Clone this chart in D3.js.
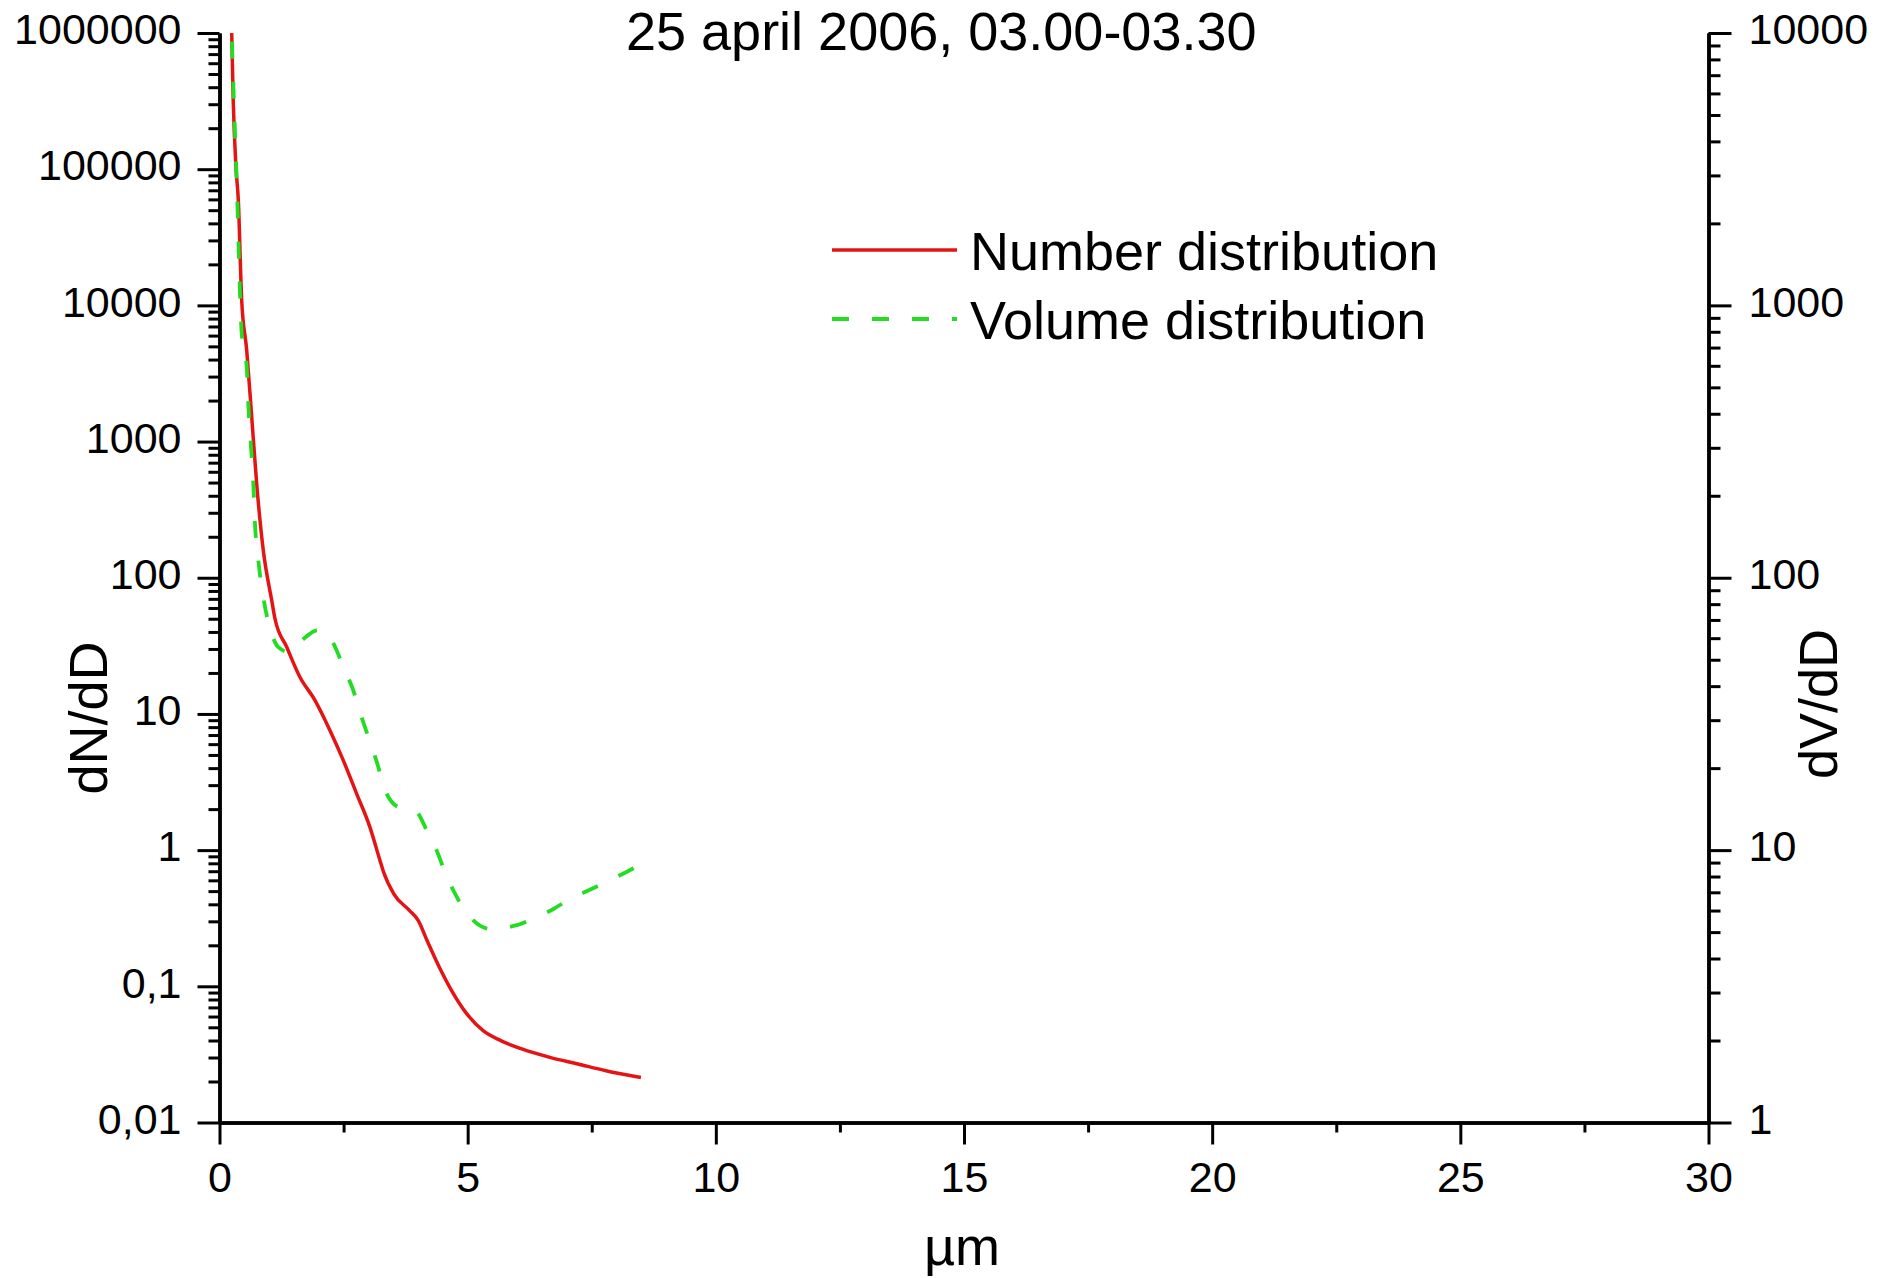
<!DOCTYPE html>
<html>
<head>
<meta charset="utf-8">
<script src="https://cdn.jsdelivr.net/npm/d3@7"></script>
<style>
  html, body { margin: 0; padding: 0; background: #fff; }
  svg { display: block; }
  text { font-family: "Liberation Sans", Arial, sans-serif; fill: #000; }
</style>
</head>
<body>
<svg id="chart" width="1892" height="1278"></svg>
<script>
// ---------- data ----------
const titleText = "25 april 2006, 03.00-03.30";
const seriesNames = ["Number distribution", "Volume distribution"];

// Number distribution (left axis, dN/dD)
const numberX = [0.246, 0.278, 0.332, 0.379, 0.447, 0.548, 0.649, 0.749, 0.882, 1.052, 1.118, 1.354, 1.622, 1.924, 2.226, 2.494, 2.764, 3.032, 3.233, 3.300, 3.511, 3.830, 4.005, 4.182, 4.464, 4.676, 4.960, 5.312, 5.667, 6.090, 6.656, 7.220, 7.786, 8.491];
const numberY = [1000000, 306000, 103000, 59300, 10900, 4690, 1517, 491, 159, 68.2, 50, 31, 18.6, 12.6, 7.57, 4.56, 2.59, 1.47, 0.84, 0.70, 0.478, 0.36, 0.304, 0.217, 0.130, 0.093, 0.0644, 0.0472, 0.0399, 0.0347, 0.0301, 0.0269, 0.0240, 0.0214];

// Volume distribution (right axis, dV/dD)
const volumeX = [0.250, 0.312, 0.359, 0.413, 0.447, 0.548, 0.580, 0.635, 0.681, 0.715, 0.782, 0.882, 1.052, 1.185, 1.380, 1.656, 1.958, 2.080, 2.361, 2.494, 2.695, 2.796, 2.965, 3.199, 3.300, 3.602, 3.938, 4.206, 4.375, 4.571, 4.712, 4.994, 5.453, 5.949, 6.231, 6.726, 7.008, 7.504, 7.786, 8.316, 8.527];
const volumeY = [9300, 4300, 2430, 1109, 791, 594, 437, 302, 222, 158, 116, 85, 62.3, 55.6, 53.5, 58.9, 64.1, 64.3, 54.1, 47.0, 38.6, 33.5, 27.1, 20.2, 17.3, 14.4, 14.0, 11.5, 9.97, 8.07, 7.11, 5.84, 5.14, 5.28, 5.51, 6.08, 6.53, 7.21, 7.62, 8.53, 8.91];

// tick values / labels
const xTickValues = [0, 5, 10, 15, 20, 25, 30];
const xMinorTicks = [2.5, 7.5, 12.5, 17.5, 22.5, 27.5];
const leftTickValues = [0.01, 0.1, 1, 10, 100, 1000, 10000, 100000, 1000000];
const leftTickLabels = ["0,01", "0,1", "1", "10", "100", "1000", "10000", "100000", "1000000"];
const rightTickValues = [1, 10, 100, 1000, 10000];
const rightTickLabels = ["1", "10", "100", "1000", "10000"];
const xAxisTitle = "µm";
const leftAxisTitle = "dN/dD";
const rightAxisTitle = "dV/dD";

// ---------- layout ----------
const L = 219.5, R = 1708.5, T = 33, B = 1122.5;
const svg = d3.select("#chart");
svg.append("rect").attr("width", 1892).attr("height", 1278).attr("fill", "#fff");

const x = d3.scaleLinear().domain([0, 30]).range([L, R]);
const yL = d3.scaleLog().domain([0.01, 1000000]).range([B, T]);
const yR = d3.scaleLog().domain([1, 10000]).range([B, T]);

function minorLog(lo, hi) {
  const out = [];
  for (let d = lo; d < hi * 0.999; d *= 10) {
    for (let k = 2; k <= 9; k++) out.push(+(d * k).toPrecision(6));
  }
  return out;
}

function styleAxis(g) {
  g.select(".domain").attr("stroke", "#000").attr("stroke-width", 3.5);
  g.selectAll(".tick line").attr("stroke", "#000").attr("stroke-width", 3);
  g.selectAll(".tick text").attr("font-size", 43).attr("font-family", '"Liberation Sans", Arial, sans-serif').attr("fill", "#000");
}

// minor ticks first
const gxm = svg.append("g").attr("transform", `translate(0,${B})`)
  .call(d3.axisBottom(x).tickValues(xMinorTicks).tickSize(10).tickSizeOuter(0).tickFormat(""));
styleAxis(gxm);
const gLm = svg.append("g").attr("transform", `translate(${L},0)`)
  .call(d3.axisLeft(yL).tickValues(minorLog(0.01, 1000000)).tickSize(11).tickSizeOuter(0).tickFormat(""));
styleAxis(gLm);
const gRm = svg.append("g").attr("transform", `translate(${R},0)`)
  .call(d3.axisRight(yR).tickValues(minorLog(1, 10000)).tickSize(12).tickSizeOuter(0).tickFormat(""));
styleAxis(gRm);

// major ticks
const gx = svg.append("g").attr("transform", `translate(0,${B})`)
  .call(d3.axisBottom(x).tickValues(xTickValues).tickSize(22).tickSizeOuter(0).tickPadding(17).tickFormat(d3.format("d")));
styleAxis(gx);

const gL = svg.append("g").attr("transform", `translate(${L},0)`)
  .call(d3.axisLeft(yL).tickValues(leftTickValues).tickSize(22).tickSizeOuter(0).tickPadding(16)
    .tickFormat((d, i) => leftTickLabels[i]));
styleAxis(gL);
gL.selectAll(".tick text").attr("dy", "0.25em");

const gR = svg.append("g").attr("transform", `translate(${R},0)`)
  .call(d3.axisRight(yR).tickValues(rightTickValues).tickSize(23).tickSizeOuter(0).tickPadding(17)
    .tickFormat((d, i) => rightTickLabels[i]));
styleAxis(gR);
gR.selectAll(".tick text").attr("dy", "0.25em");

// ---------- lines ----------
const numberData = numberX.map((v, i) => [v, numberY[i]]);
const volumeData = volumeX.map((v, i) => [v, volumeY[i]]);

const lineL = d3.line().x(d => x(d[0])).y(d => yL(d[1])).curve(d3.curveMonotoneX);
const lineR = d3.line().x(d => x(d[0])).y(d => yR(d[1])).curve(d3.curveMonotoneX);

const red = "#e41414", green = "#22dd22";

svg.append("path").datum(numberData).attr("d", lineL)
  .attr("fill", "none").attr("stroke", red).attr("stroke-width", 3.5).attr("stroke-linejoin", "round");
svg.append("path").datum(volumeData).attr("d", lineR)
  .attr("fill", "none").attr("stroke", green).attr("stroke-width", 3.8).attr("stroke-dasharray", "17,23");

// ---------- texts ----------
svg.append("text").attr("x", 626).attr("y", 50).attr("font-size", 54).text(titleText);

svg.append("text").attr("font-size", 54).attr("text-anchor", "middle")
  .attr("transform", "translate(107,718) rotate(-90)").text(leftAxisTitle);
svg.append("text").attr("font-size", 54).attr("text-anchor", "middle")
  .attr("transform", "translate(1837,704) rotate(-90)").text(rightAxisTitle);
svg.append("text").attr("font-size", 54).attr("text-anchor", "middle")
  .attr("x", 962).attr("y", 1265).text(xAxisTitle);

// ---------- legend ----------
const lg = svg.append("g");
lg.append("line").attr("x1", 832).attr("x2", 957).attr("y1", 250).attr("y2", 250)
  .attr("stroke", red).attr("stroke-width", 3.5);
lg.append("text").attr("x", 970).attr("y", 270).attr("font-size", 54).text(seriesNames[0]);
lg.append("line").attr("x1", 832).attr("x2", 957).attr("y1", 319).attr("y2", 319)
  .attr("stroke", green).attr("stroke-width", 3.8).attr("stroke-dasharray", "17,23");
lg.append("text").attr("x", 970).attr("y", 339).attr("font-size", 54).text(seriesNames[1]);
</script>
</body>
</html>
